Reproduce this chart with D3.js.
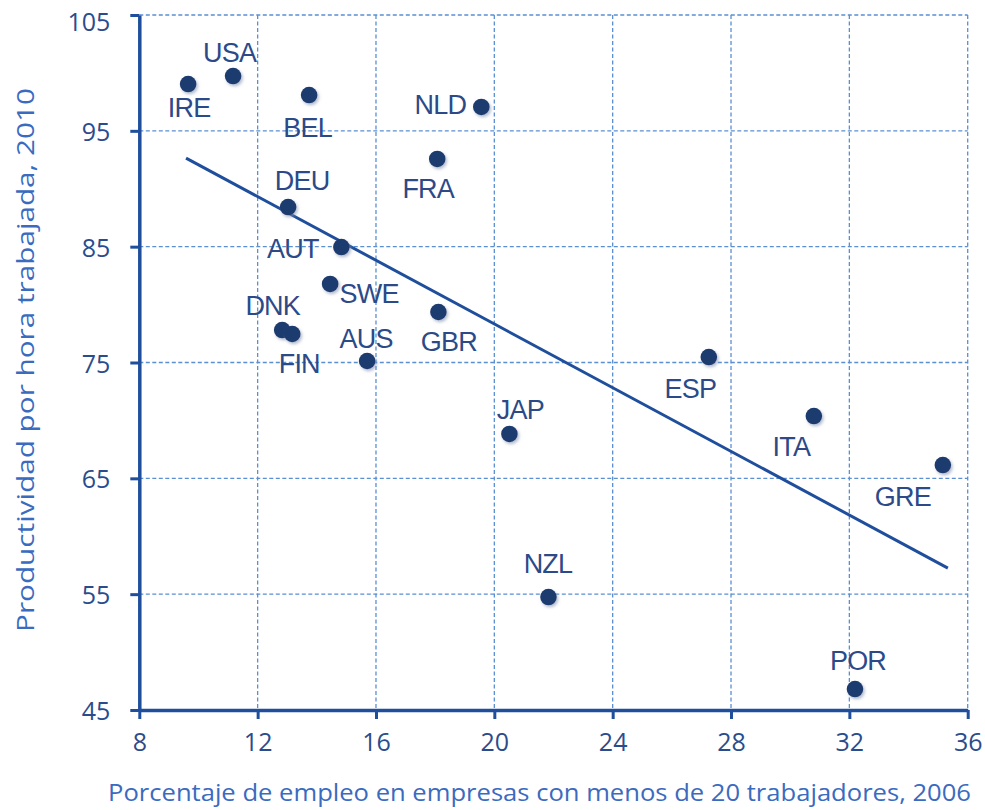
<!DOCTYPE html>
<html>
<head>
<meta charset="utf-8">
<script src="https://cdn.jsdelivr.net/npm/d3@7"></script>
<style>
  html, body { margin: 0; padding: 0; background: #ffffff; }
  svg { display: block; }
</style>
</head>
<body>
<svg id="chart" width="985" height="810"></svg>
<script>
// ---- Data ----
const countries = ["IRE","USA","BEL","NLD","FRA","DEU","AUT","SWE","DNK","FIN","AUS","GBR","JAP","ESP","ITA","GRE","NZL","POR"];
const empleoMenos20 = [9.65, 11.17, 13.74, 19.56, 18.07, 13.03, 14.83, 14.45, 12.83, 13.17, 15.70, 18.11, 20.51, 27.25, 30.80, 35.16, 21.83, 32.19];
const productividad = [99.04, 99.73, 98.09, 97.06, 92.57, 88.42, 84.97, 81.78, 77.80, 77.46, 75.13, 79.36, 68.83, 75.47, 70.38, 66.15, 54.75, 46.81];
const trendX = [9.58, 35.33];
const trendY = [92.65, 57.25];
const xTicks = [8, 12, 16, 20, 24, 28, 32, 36];
const yTicks = [45, 55, 65, 75, 85, 95, 105];
const xTitle = "Porcentaje de empleo en empresas con menos de 20 trabajadores, 2006";
const yTitle = "Productividad por hora trabajada, 2010";

// ---- Layout (label offsets in px, relative to each point) ----
const labelOffsets = {
  IRE: [1, 33], USA: [-3.5, -14], BEL: [-1.5, 42], NLD: [-41, 7], FRA: [-9, 39],
  DEU: [14, -17], AUT: [-48.5, 11], SWE: [39, 19], DNK: [-9.5, -15], FIN: [7, 39],
  AUS: [-1, -13], GBR: [10.5, 39], JAP: [11, -15], ESP: [-18.5, 41], ITA: [-22.5, 40],
  GRE: [-40, 41], NZL: [-0.5, -24], POR: [3, -19]
};

const svg = d3.select("#chart");
const x = d3.scaleLinear().domain([8, 36]).range([139.3, 967.7]);
const y = d3.scaleLinear().domain([45, 105]).range([710, 15]);

const axisColor = "#1f4e9c";
const gridColor = "#5a8fd2";
const tickFont = "'Open Sans', Lato, sans-serif";

const defs = svg.append("defs");
const f = defs.append("filter").attr("id", "shadow").attr("x", "-50%").attr("y", "-50%").attr("width", "200%").attr("height", "200%");
f.append("feDropShadow").attr("dx", 1.5).attr("dy", 2).attr("stdDeviation", 1.8).attr("flood-color", "#7f8fb0").attr("flood-opacity", 0.6);

// Grid
const grid = svg.append("g");
grid.selectAll("line.gx").data(xTicks.filter(d => d > 8)).join("line")
  .attr("x1", d => x(d)).attr("x2", d => x(d))
  .attr("y1", y(105)).attr("y2", y(45))
  .attr("stroke", gridColor).attr("stroke-width", 1.3).attr("stroke-dasharray", "4,2.5");
grid.selectAll("line.gy").data(yTicks.filter(d => d > 45)).join("line")
  .attr("x1", x(8)).attr("x2", x(36))
  .attr("y1", d => y(d)).attr("y2", d => y(d))
  .attr("stroke", gridColor).attr("stroke-width", 1.3).attr("stroke-dasharray", "4,2.5");

// Axes
const xAxis = svg.append("g").attr("transform", `translate(0,${y(45)})`)
  .call(d3.axisBottom(x).tickValues(xTicks).tickSize(9).tickPadding(27).tickSizeOuter(0));
const yAxis = svg.append("g").attr("transform", `translate(${x(8)},0)`)
  .call(d3.axisLeft(y).tickValues(yTicks).tickSize(9).tickPadding(20).tickSizeOuter(0));
[xAxis, yAxis].forEach(g => {
  g.select(".domain").attr("stroke", axisColor).attr("stroke-width", 3.5);
  g.selectAll(".tick line").attr("stroke", axisColor).attr("stroke-width", 3);
  g.selectAll(".tick text").attr("fill", "#2b4c8c").attr("font-family", tickFont).attr("font-size", 25);
});
xAxis.selectAll(".tick text").attr("dy", "0.2em");
yAxis.selectAll(".tick text").attr("dy", "0.38em");
// top label sits slightly lower in the reference (keeps it inside the frame)
yAxis.selectAll(".tick").filter(d => d === 105).select("text").attr("dy", "0.6em");

// Trend line
svg.append("line")
  .attr("x1", x(trendX[0])).attr("y1", y(trendY[0]))
  .attr("x2", x(trendX[1])).attr("y2", y(trendY[1]))
  .attr("stroke", axisColor).attr("stroke-width", 3);

// Points
const pts = countries.map((c, i) => ({ c, xv: empleoMenos20[i], yv: productividad[i] }));
svg.append("g").selectAll("circle").data(pts).join("circle")
  .attr("cx", d => x(d.xv)).attr("cy", d => y(d.yv)).attr("r", 8.3)
  .attr("fill", "#1d3a6e").attr("filter", "url(#shadow)");

// Labels
svg.append("g").selectAll("text").data(pts).join("text")
  .attr("x", d => x(d.xv) + labelOffsets[d.c][0])
  .attr("y", d => y(d.yv) + labelOffsets[d.c][1])
  .attr("text-anchor", "middle")
  .attr("font-family", "'Liberation Sans', Arial, sans-serif")
  .attr("font-size", 27)
  .attr("letter-spacing", "-0.8")
  .attr("fill", "#2c4a88")
  .text(d => d.c);

// Axis titles
svg.append("text")
  .attr("x", 108).attr("y", 801)
  .attr("font-family", tickFont).attr("font-size", 23)
  .attr("fill", "#3a6bbf")
  .attr("textLength", 863).attr("lengthAdjust", "spacingAndGlyphs")
  .text(xTitle);
svg.append("text")
  .attr("transform", "translate(34,632) rotate(-90)")
  .attr("x", 0).attr("y", 0)
  .attr("font-family", tickFont).attr("font-size", 23)
  .attr("fill", "#3a6bbf")
  .attr("textLength", 544).attr("lengthAdjust", "spacingAndGlyphs")
  .text(yTitle);
</script>
</body>
</html>
